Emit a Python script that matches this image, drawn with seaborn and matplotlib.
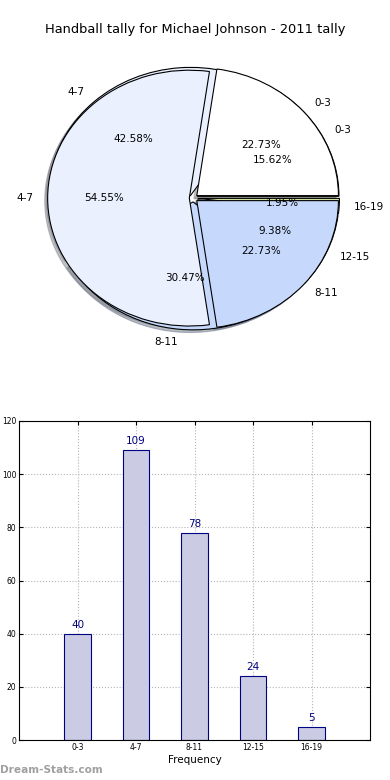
import matplotlib
matplotlib.use("Agg")
import matplotlib.pyplot as plt
import seaborn as sns
import pandas as pd

# ---- data ----
title = "Handball tally for Michael Johnson - 2011 tally"
categories = ["0-3", "4-7", "8-11", "12-15", "16-19"]
counts = [40, 109, 78, 24, 5]
pie2_labels = ["0-3", "4-7", "8-11"]
pie2_values = [5, 12, 5]
xlabel = "Frequency"
yticks = [0, 20, 40, 60, 80, 100, 120]
watermark = "Dream-Stats.com"

pie_colors = ["#ffffff", "#eaf0fd", "#c6d9fd", "#dfe8f8", "#d2e39a"]
bar_face = "#cbcce4"
bar_edge = "#000080"

sns.set_style("white")
plt.rcParams["font.family"] = ["DejaVu Sans"]
plt.rcParams["text.color"] = "black"
plt.rcParams["axes.labelcolor"] = "black"
plt.rcParams["xtick.color"] = "black"
plt.rcParams["ytick.color"] = "black"

fig = plt.figure(figsize=(3.9, 7.8), dpi=100)

# ---- pie ----
ax1 = fig.add_axes([16.5 / 390, 0.541, 0.908, 0.41])
wkw = dict(edgecolor="black", linewidth=0.8)
shd = dict(ox=-0.015, oy=-0.015, shade=0.45)
ax1.pie(counts, labels=categories, colors=pie_colors, explode=[0.03] * len(counts),
        autopct="%.2f%%", shadow=shd, startangle=0, counterclock=True,
        wedgeprops=wkw, textprops=dict(fontsize=7.5, color="black"))
ax1.pie(pie2_values, labels=pie2_labels, colors=pie_colors[:3], explode=[0.03] * 3,
        autopct="%.2f%%", shadow=shd, startangle=0, counterclock=True,
        wedgeprops=wkw, textprops=dict(fontsize=7.5, color="black"))
ax1.set_aspect("auto")
ax1.set_xlim(-1.25, 1.25)
ax1.set_ylim(-1.25, 1.25)

fig.text(0.5, 1 - 30 / 780, title, ha="center", va="center", fontsize=9.4, color="black")

# ---- bars ----
ax2 = fig.add_axes([19 / 390, 1 - 740 / 780, (370 - 19) / 390, (740 - 421) / 780])
df = pd.DataFrame({"cat": categories, "count": counts})
sns.barplot(data=df, x="cat", y="count", ax=ax2, color=bar_face, edgecolor=bar_edge,
            linewidth=0.8, width=0.45, saturation=1, zorder=2)
for p, v in zip(ax2.patches, counts):
    ax2.text(p.get_x() + p.get_width() / 2, v + 1.5, str(v), ha="center", va="bottom",
             color=bar_edge, fontsize=7.5)
ax2.set_xlim(-1, 5)
ax2.set_ylim(0, 120)
ax2.set_yticks(yticks)
ax2.set_xlabel(xlabel, fontsize=7.5, labelpad=2)
ax2.set_ylabel("")
ax2.tick_params(axis="both", labelsize=5.5, direction="in", length=3, top=True, right=True,
                left=True, bottom=True, pad=2)
ax2.grid(True, linestyle=":", color="#b4b4b4", linewidth=0.8, zorder=0)
ax2.set_axisbelow(True)
for s in ax2.spines.values():
    s.set_visible(True)
    s.set_color("black")
    s.set_linewidth(0.8)

fig.text(0.0, 1 - 770 / 780, watermark, ha="left", va="center", fontsize=7.6,
         fontweight="bold", color="#a0a0a0")

fig.savefig("out.png", dpi=100)
